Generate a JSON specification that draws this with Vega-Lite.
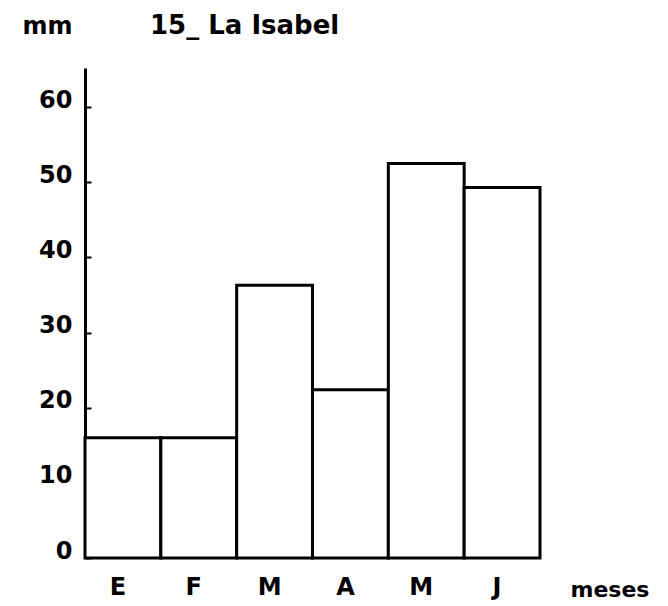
{
  "$schema": "https://vega.github.io/schema/vega-lite/v6.json",
  "autosize": "none",
  "width": 455,
  "height": 490,
  "padding": {"left": 85, "top": 68, "right": 128, "bottom": 48},
  "background": "white",
  "config": {"view": {"stroke": null}, "font": "DejaVu Sans"},
  "title": {"text": "15_ La Isabel", "anchor": "start", "frame": "group", "dx": 65, "dy": 46, "fontSize": 26, "fontWeight": "bold", "color": "black", "baseline": "alphabetic", "offset": 0},
  "data": {"values": [
    {"mes": "E", "orden": 1, "mm": 16.0},
    {"mes": "F", "orden": 2, "mm": 16.0},
    {"mes": "M", "orden": 3, "mm": 36.3},
    {"mes": "A", "orden": 4, "mm": 22.4},
    {"mes": "M ", "orden": 5, "mm": 52.5},
    {"mes": "J", "orden": 6, "mm": 49.3}
  ]},
  "mark": {"type": "bar", "fill": "white", "stroke": "black", "strokeWidth": 3},
  "encoding": {
    "x": {"field": "mes", "type": "nominal", "sort": {"field": "orden"},
      "scale": {"paddingInner": 0, "paddingOuter": 0},
      "axis": {"title": "meses", "domain": false, "ticks": false, "labelAngle": 0, "labelFontSize": 24, "labelFontWeight": "bold", "labelColor": "black", "labelPadding": 17, "labelBaseline": "top", "labelOffset": -5,
        "titleFontSize": 22, "titleFontWeight": "bold", "titleColor": "black", "titleAnchor": "start", "titleAlign": "left", "titleX": 485, "titleY": 38, "titleBaseline": "alphabetic"}},
    "y": {"field": "mm", "type": "quantitative", "scale": {"domain": [0, 65.2], "nice": false},
      "axis": {"title": "mm", "values": [0, 10, 20, 30, 40, 50, 60], "grid": false, "domainColor": "black", "domainWidth": 3, "tickColor": "black", "tickWidth": 2, "tickSize": -6,
        "labelFontSize": 24, "labelFontWeight": "bold", "labelColor": "black", "labelBaseline": "alphabetic", "labelPadding": 19,
        "titleAngle": 0, "titleFontSize": 24, "titleFontWeight": "bold", "titleColor": "black", "titleAlign": "left", "titleBaseline": "alphabetic", "titleX": -63, "titleY": -35}}
  }
}
